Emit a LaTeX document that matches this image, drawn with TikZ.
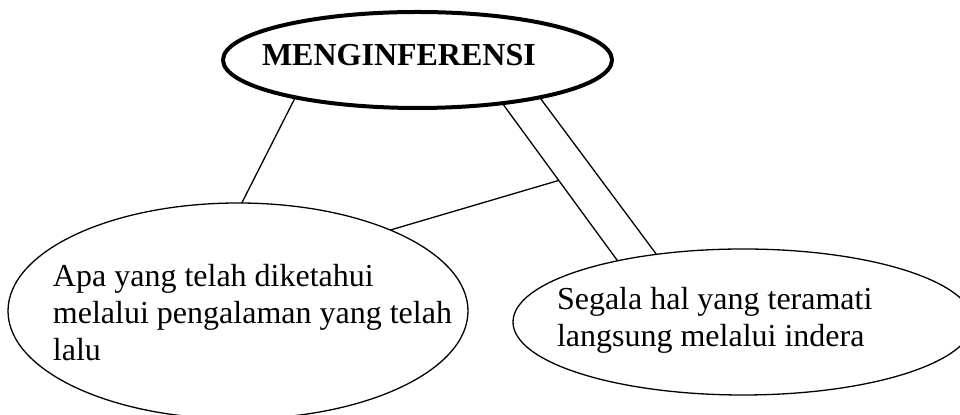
\documentclass[tikz,border=0pt]{standalone}
\usepackage{fontspec}
\setmainfont{Liberation Serif}
\usetikzlibrary{shapes.geometric}
\begin{document}
\begin{tikzpicture}[x=0.5pt,y=-0.5pt,
  bubble/.style={ellipse, draw, inner sep=0pt, outer sep=0pt, line width=0.65pt},
  mainbubble/.style={bubble, line width=2pt},
  link/.style={line width=0.65pt},
  bubbletext/.style={anchor=base west, inner sep=0pt, outer sep=0pt, align=left,
    font=\fontsize{16}{18.4}\selectfont}]
  \useasboundingbox (0,0) rectangle (960,415);

  % the three ellipses
  \node[mainbubble, minimum width=194.5pt, minimum height=48pt] (top) at (417.5,60) {};
  \node[bubble, minimum width=230pt, minimum height=108pt] (past) at (238,311) {};
  \node[bubble, minimum width=230pt, minimum height=73pt] (seen) at (743,322) {};

  % their texts (a multi-line node sits on the baseline of its last line)
  \node[bubbletext, font=\fontsize{16}{18.4}\selectfont\bfseries] (toptext) at (262,66) {MENGINFERENSI};
  \node[bubbletext] (pasttext) at (53,360.6) {Apa yang telah diketahui\\melalui pengalaman yang telah\\lalu};
  \node[bubbletext] (seentext) at (557,346.3) {Segala hal yang teramati\\langsung melalui indera};

  % connectors
  \draw[link] (top.197.5) -- (past.88);
  \draw[link] (top.-27.2) -- coordinate[pos=0.49] (junction) (seen.154.8);
  \draw[link] (top.-17.6) -- (seen.142.7);
  \draw[link] (past.28.7) -- (junction);
\end{tikzpicture}
\end{document}
